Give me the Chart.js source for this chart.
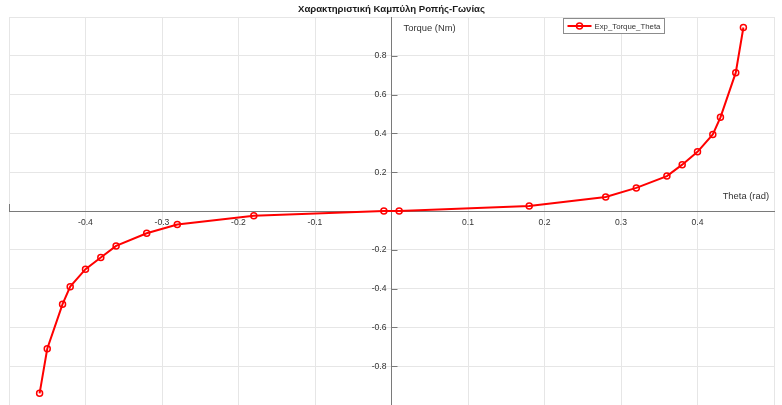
<!DOCTYPE html>
<html>
<head>
<meta charset="utf-8">
<script src="https://cdn.jsdelivr.net/npm/chart.js@4.4.1/dist/chart.umd.min.js"></script>
<style>
  html, body { margin: 0; padding: 0; background: #fff; }
  #wrap { width: 782px; height: 405px; }
</style>
</head>
<body>
<div id="wrap"><canvas id="chart"></canvas></div>
<script>
// measured points, theta in rad, torque in Nm
const thetaValues = [-0.46, -0.45, -0.43, -0.42, -0.40, -0.38, -0.36, -0.32, -0.28, -0.18, -0.01,
                     0.01, 0.18, 0.28, 0.32, 0.36, 0.38, 0.40, 0.42, 0.43, 0.45, 0.46];
const torqueValues = [-0.94, -0.71, -0.48, -0.39, -0.30, -0.24, -0.18, -0.115, -0.07, -0.024, 0,
                      0, 0.026, 0.072, 0.119, 0.18, 0.239, 0.305, 0.395, 0.483, 0.713, 0.946];
const xTickLabels = [-0.4, -0.3, -0.2, -0.1, 0.1, 0.2, 0.3, 0.4];
const yTickLabels = [-0.8, -0.6, -0.4, -0.2, 0.2, 0.4, 0.6, 0.8];
const seriesName = "Exp_Torque_Theta";
const chartTitle = "Χαρακτηριστική Καμπύλη Ροπής-Γωνίας";
const xTitle = "Theta (rad)";
const yTitle = "Torque (Nm)";

const FONT = "'Liberation Sans', Arial, sans-serif";
const TEXT = "#333333";
const AXIS = "#7a7a7a";

// draws tick labels, axis names, the box and the legend the way matlab does
const matlabAxes = {
  id: "matlabAxes",
  afterDatasetsDraw(chart) {
    const ctx = chart.ctx;
    const xs = chart.scales.x, ys = chart.scales.y;
    const a = chart.chartArea;
    const x0 = xs.getPixelForValue(0), y0 = ys.getPixelForValue(0);
    ctx.save();
    ctx.fillStyle = TEXT;
    ctx.font = "8.6px " + FONT;
    ctx.textAlign = "center";
    ctx.textBaseline = "top";
    xTickLabels.forEach(v => ctx.fillText(String(v), xs.getPixelForValue(v), y0 + 7));
    ctx.textAlign = "right";
    ctx.textBaseline = "middle";
    ctx.strokeStyle = AXIS;
    ctx.lineWidth = 1;
    yTickLabels.forEach(v => {
      const py = ys.getPixelForValue(v);
      ctx.fillText(String(v), x0 - 5, py);
      ctx.beginPath();
      ctx.moveTo(x0, Math.round(py) + 0.5);
      ctx.lineTo(x0 + 6, Math.round(py) + 0.5);
      ctx.stroke();
    });
    // small tick at left end of x axis
    ctx.beginPath();
    ctx.moveTo(Math.round(a.left) + 0.5, y0);
    ctx.lineTo(Math.round(a.left) + 0.5, y0 - 7);
    ctx.stroke();

    ctx.font = "9.4px " + FONT;
    ctx.textAlign = "left";
    ctx.fillText(yTitle, x0 + 12, a.top + 11);
    ctx.textAlign = "right";
    ctx.fillText(xTitle, a.right - 5, y0 - 15);

    // legend
    const ds = chart.data.datasets[0];
    const lx = 563.5, ly = 18.5, lw = 101, lh = 15;
    ctx.fillStyle = "#ffffff";
    ctx.fillRect(lx, ly, lw, lh);
    ctx.strokeStyle = "#8c8c8c";
    ctx.strokeRect(lx, ly, lw, lh);
    const my = ly + lh / 2;
    ctx.strokeStyle = ds.borderColor;
    ctx.lineWidth = ds.borderWidth;
    ctx.beginPath();
    ctx.moveTo(lx + 4, my);
    ctx.lineTo(lx + 28, my);
    ctx.stroke();
    ctx.lineWidth = ds.pointBorderWidth;
    ctx.beginPath();
    ctx.arc(lx + 16, my, ds.pointRadius, 0, Math.PI * 2);
    ctx.stroke();
    ctx.fillStyle = TEXT;
    ctx.font = "7.8px " + FONT;
    ctx.textAlign = "left";
    ctx.fillText(seriesName, lx + 31, my + 0.5);
    ctx.restore();
  }
};

const ctx = document.getElementById("chart");
new Chart(ctx, {
  type: "scatter",
  data: {
    datasets: [{
      label: seriesName,
      data: thetaValues.map((t, i) => ({ x: t, y: torqueValues[i] })),
      showLine: true,
      borderColor: "#ff0000",
      backgroundColor: "#ff0000",
      borderWidth: 2,
      pointRadius: 3,
      pointBorderWidth: 1.5,
      pointBackgroundColor: "rgba(255,255,255,0)",
      pointBorderColor: "#ff0000",
      tension: 0,
    }],
  },
  options: {
    responsive: true,
    maintainAspectRatio: false,
    animation: false,
    layout: { autoPadding: false, padding: { left: 9, right: 8, top: 0, bottom: -2 } },
    plugins: {
      legend: { display: false },
      tooltip: { enabled: false },
      title: {
        display: true,
        text: chartTitle,
        color: "#1a1a1a",
        font: { family: FONT, size: 9.6, weight: "bold" },
        padding: { top: 3.5, bottom: 2 },
      },
    },
    scales: {
      x: {
        type: "linear",
        min: -0.5,
        max: 0.5,
        position: { y: 0 },
        ticks: { display: false, stepSize: 0.1 },
        grid: { color: "#e6e6e6", drawTicks: false },
        border: { color: AXIS, width: 1 },
      },
      y: {
        type: "linear",
        min: -1,
        max: 1,
        position: { x: 0 },
        ticks: { display: false, stepSize: 0.2 },
        grid: { color: "#e6e6e6", drawTicks: false },
        border: { color: AXIS, width: 1 },
      },
    },
  },
  plugins: [matlabAxes],
});
</script>
</body>
</html>
